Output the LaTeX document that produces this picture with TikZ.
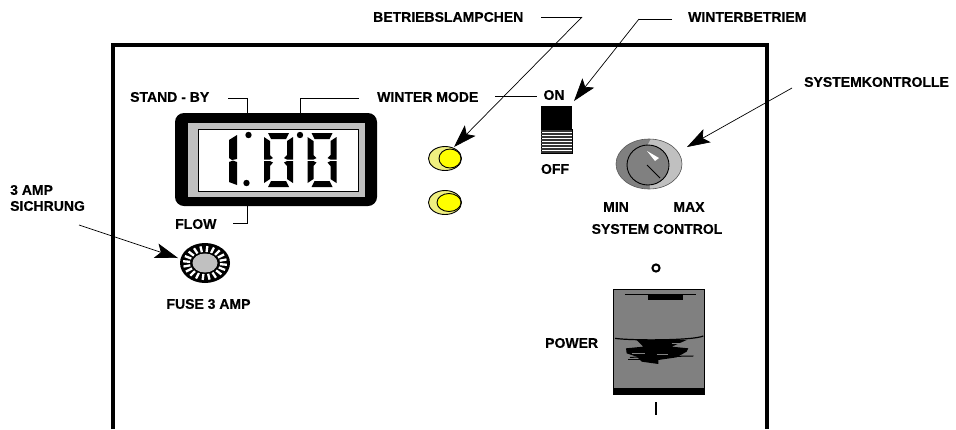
\documentclass[tikz,border=0pt]{standalone}
\usepackage{fontspec}
\setmainfont[BoldFeatures={FakeBold=0.35}]{Liberation Sans}
\usetikzlibrary{arrows.meta}
\tikzset{
 lbl/.style={font=\fontsize{14}{16}\selectfont\bfseries,inner sep=0pt,text=black},
 leader/.style={draw=black,line width=0.9pt},
 pointer/.style={draw=black,line width=0.7pt,-{Stealth[length=23pt,width=15pt,inset=5pt]}},
 seg/.style={fill=black,draw=none},
 led/.style={draw=black,line width=0.9pt},
}
\definecolor{ledpale}{HTML}{EFEF80}
\definecolor{ledyel}{HTML}{FFFF00}
\definecolor{panelgray}{HTML}{808080}
\definecolor{lightg}{HTML}{C0C0C0}
\newcommand{\zerodigit}[2]{%
 \begin{scope}[shift={(#1,#2)}]
  \fill[seg] (4,0)--(25,0)--(22,6)--(7,6)--cycle;
  \fill[seg] (4,54)--(25,54)--(22,48)--(7,48)--cycle;
  \fill[seg] (0,4)--(6,8)--(6,22)--(9,25)--(6,26.5)--(0,26.5)--cycle;
  \fill[seg] (0,28)--(6,28)--(9,29.5)--(6,33)--(6,46)--(0,50)--cycle;
  \fill[seg] (29,4)--(23,8)--(23,22)--(20,25)--(23,26.5)--(29,26.5)--cycle;
  \fill[seg] (29,28)--(23,28)--(20,29.5)--(23,33)--(23,46)--(29,50)--cycle;
 \end{scope}}
\begin{document}
\begin{tikzpicture}[x=1pt,y=-1pt]
\useasboundingbox (0,0) rectangle (956,429);
\fill[white] (0,0) rectangle (956,429);
% panel frame
\draw[line width=3.6pt,line join=miter] (113,429) -- (113,45) -- (767,45) -- (767,429);
% display
\fill[black,rounded corners=9pt] (175,113) rectangle (377,206);
\fill[lightg] (188,123) rectangle (365,197);
\draw[fill=white,line width=0.9pt] (198,129) rectangle (358,191);
\fill[seg] (237,135)--(237,159)--(232,160)--(229,158)--(229,140)--cycle;
\fill[seg] (229,162)--(233,160.5)--(237,162)--(237,185)--(229,182)--cycle;
\fill (248.5,135) circle (3.2);
\fill (246.5,183) circle (3.2);
\fill (300,135) circle (3.2);
\zerodigit{264}{133}
\zerodigit{307.5}{133}
% display leaders
\coordinate (sbA) at (228,98); \coordinate (sbB) at (247,98); \coordinate (sbC) at (247,113);
\coordinate (wmA) at (359,98); \coordinate (wmB) at (300,98); \coordinate (wmC) at (300,113);
\coordinate (flA) at (233,223); \coordinate (flB) at (247,223); \coordinate (flC) at (247,206);
\draw[leader] (sbA) -- (sbB) -- (sbC);
\draw[leader] (wmA) -- (wmB) -- (wmC);
\draw[leader] (flA) -- (flB) -- (flC);
\node[lbl,anchor=west] (standby) at (130,97) {STAND - BY};
\node[lbl,anchor=west] (flow) at (175,224) {FLOW};
\node[lbl,anchor=west] (wintermode) at (377,97) {WINTER MODE};
\node[lbl] (on) at (554,95) {ON};
\node[lbl] (off) at (555,169) {OFF};
\coordinate (onL) at (495,96); \coordinate (onR) at (537,96);
\draw[leader] (onL) -- (onR);
% toggle
\fill[black] (541,106) rectangle (572,129);
\draw[line width=0.9pt,fill=white] (541,129) rectangle (572,153);
\foreach \y in {131,134,...,152} \draw[line width=1.5pt,draw=black!80] (541,\y) -- (572,\y);
% leds
\draw[led,fill=ledpale] (445,158.5) ellipse (16.5 and 12);
\draw[led,fill=ledyel] (450,158.5) ellipse (11 and 9.5);
\draw[led,fill=ledpale] (445,202.5) ellipse (16.5 and 12);
\draw[led,fill=ledyel] (449,202.5) ellipse (12 and 9);
% top labels and arrows
\node[lbl,anchor=west] (betrieb) at (373,17) {BETRIEBSLAMPCHEN};
\node[lbl,anchor=west] (winterb) at (688,17) {WINTERBETRIEM};
\node[lbl,anchor=west] (systemk) at (804,82) {SYSTEMKONTROLLE};
\node[lbl,anchor=west,align=left] (sich) at (10,198) {3 AMP\\SICHRUNG};
\coordinate (bA) at (541,17); \coordinate (bB) at (582,17); \coordinate (bC) at (454,147);
\coordinate (wA) at (672,19); \coordinate (wB) at (639,19); \coordinate (wC) at (574,101);
\coordinate (sA) at (792,88); \coordinate (sC) at (687,147);
\coordinate (fA) at (79,225); \coordinate (fC) at (178,258);
\draw[leader] (bA) -- (bB);
\draw[pointer] (bB) -- (bC);
\draw[leader] (wA) -- (wB);
\draw[pointer] (wB) -- (wC);
\draw[pointer] (sA) -- (sC);
\draw[pointer] (fA) -- (fC);
% fuse
\fill[black] (205,263) ellipse (25 and 20);
\begin{scope}[shift={(205,263)}]
 \foreach \a in {0,18,...,342}
  \draw[white,line width=2.3pt] (\a+6:15 and 11) -- (\a+6:22 and 17);
 \fill[lightg] (0,0) ellipse (12.5 and 9.5);
\end{scope}
\node[lbl] (fuse) at (208.5,304) {FUSE 3 AMP};
% knob
\fill[panelgray] (649,164) ellipse (33 and 25);
\begin{scope}
 \clip (649,164) ellipse (33 and 25);
 \fill[lightg] (653,135) -- (647,146) -- (650,190) -- (690,190) -- (690,135) -- cycle;
\end{scope}
\draw[panelgray!70!black,line width=0.6pt] (649,164) ellipse (33 and 25);
\draw[line width=0.9pt,fill=panelgray] (648,165) ellipse (21 and 20);
\draw[line width=1pt] (647,165) -- (660,178);
\fill[white] (647,151) -- (659,158) -- (655,161) -- cycle;
\node[lbl] (min) at (616,207) {MIN};
\node[lbl] (max) at (689,207) {MAX};
\node[lbl] (sysc) at (657,229) {SYSTEM CONTROL};
% power switch
\fill[panelgray] (613,289) rectangle (705,394);
\draw[line width=1.3pt] (613.5,289.5) rectangle (704.5,394);
\fill[black] (613,388) rectangle (705,394);
\begin{scope}[shift={(530,250)},x=0.3333pt,y=-0.3333pt]
 \draw[line width=1.4pt] (285,133) -- (497,133);
 \fill[black] (355,135) rectangle (460,150);
 \draw[line width=1.2pt] (255,265) .. controls (300,272) and (490,272) .. (520,258);
 \fill[black] (320,270) -- (470,270) -- (425,290) -- (475,295) -- (470,305) -- (440,322) -- (385,330) -- (385,342) -- (335,335) -- (320,320) -- (290,310) -- (288,295) -- (340,290) -- cycle;
 \draw[line width=1pt] (300,322) -- (490,318);
 \draw[line width=1pt] (295,330) -- (340,330);
 \draw[panelgray,line width=1pt] (305,310) -- (345,310);
 \draw[panelgray,line width=1pt] (380,315) -- (415,315);
 \draw[panelgray,line width=1pt] (425,281) -- (455,281);
\end{scope}
\draw[line width=2pt] (656,268) circle (3.6);
\draw[line width=2pt] (655.5,402) -- (655.5,415);
\node[lbl,anchor=west] (power) at (545,343) {POWER};
\end{tikzpicture}
\end{document}
